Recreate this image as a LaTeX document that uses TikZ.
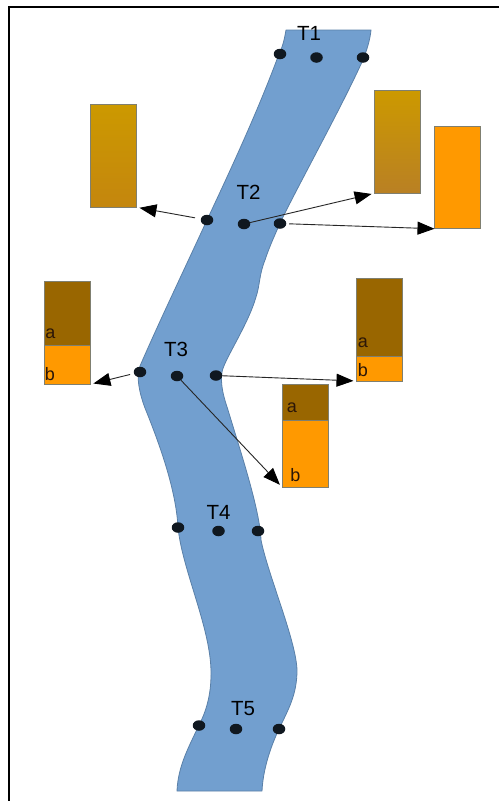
\documentclass[tikz,border=0pt]{standalone}
\usepackage{fontspec}
\setmainfont{Liberation Sans}
\usetikzlibrary{shapes.geometric,arrows.meta}
\definecolor{riverfill}{HTML}{729FCF}
\definecolor{riverline}{HTML}{5A80A8}
\definecolor{boxline}{HTML}{7F7F70}
\definecolor{brownfill}{HTML}{996600}
\definecolor{orangefill}{HTML}{FF9900}
\definecolor{goldtop}{HTML}{CC9900}
\definecolor{goldlow}{HTML}{C4860E}
\definecolor{goldlowb}{HTML}{B98024}
\definecolor{dotfill}{HTML}{101820}
\definecolor{inkdark}{HTML}{2B1608}
\tikzset{
  river/.style={fill=riverfill,draw=riverline,line width=.8pt,line join=round},
  spot/.style={ellipse,fill=dotfill,draw=none,minimum width=12.5pt,minimum height=10.5pt,inner sep=0pt,outer sep=0pt},
  sect/.style={font=\fontsize{20.5}{24}\selectfont,text=black,inner sep=0pt},
  part/.style={font=\fontsize{18}{20}\selectfont,text=inkdark,inner sep=0pt},
  panel/.style={rectangle,draw=boxline,line width=1pt,minimum width=46pt,inner sep=0pt,outer sep=0pt},
  link/.style={line width=.9pt,draw=black!85,-{Triangle[length=17pt,width=13pt,fill=black,color=black]},shorten >=3pt},
}
\begin{document}
\begin{tikzpicture}[x=1pt,y=-1pt]
\useasboundingbox (0,0) rectangle (499,801);
\fill[white] (0,0) rectangle (499,801);
\draw[black,line width=1.8pt] (499,7) -- (9,7) -- (9,801);
% river
\path[river] (286,30) .. controls (284,42) and (282,48) .. (279,54)
  .. controls (262,100) and (240,150) .. (207,220)
  .. controls (185,268) and (160,320) .. (140,366)
  .. controls (136,376) and (139,392) .. (145,408)
  .. controls (160,445) and (176,490) .. (178,527)
  .. controls (182,570) and (212,630) .. (211,675)
  .. controls (211,695) and (206,712) .. (199,725)
  .. controls (190,745) and (178,765) .. (177,791)
  -- (262,791)
  .. controls (263,770) and (270,748) .. (279,729)
  .. controls (288,710) and (297,695) .. (297,670)
  .. controls (296,640) and (268,575) .. (261,540)
  .. controls (260,510) and (240,450) .. (228,410)
  .. controls (224,398) and (220,385) .. (222,372)
  .. controls (224,360) and (248,325) .. (256,297)
  .. controls (260,285) and (259,275) .. (265,260)
  .. controls (270,245) and (275,235) .. (280,223)
  .. controls (300,182) and (340,110) .. (362,62)
  .. controls (367,50) and (370,40) .. (371,30)
  -- cycle;
% panels
\node[panel,minimum height=102.5pt,shade,shading angle=20,top color=goldtop,bottom color=goldlow] (p1) at (113.5,156) {};
\node[panel,minimum height=102.5pt,shade,top color=goldtop,bottom color=goldlowb] (p2) at (397.5,142) {};
\node[panel,minimum height=102.5pt,fill=orangefill] (p3) at (457.5,177.5) {};
\node[panel,minimum height=64.5pt,fill=brownfill] (p4a) at (67.5,313.5) {};
\node[panel,minimum height=38.5pt,fill=orangefill] (p4b) at (67.5,365) {};
\node[panel,minimum height=78pt,fill=brownfill] (p5a) at (379.5,317) {};
\node[panel,minimum height=25pt,fill=orangefill] (p5b) at (379.5,368.5) {};
\node[panel,minimum height=36pt,fill=brownfill] (p6a) at (305,402) {};
\node[panel,minimum height=67pt,fill=orangefill] (p6b) at (305,453.5) {};
% part labels
\node[part] (la4) at (50.5,334) {a};
\node[part] (lb4) at (50,374) {b};
\node[part] (la5) at (363,343) {a};
\node[part] (lb5) at (363,370.5) {b};
\node[part] (la6) at (292,408) {a};
\node[part] (lb6) at (295.5,475.5) {b};
% spots
\node[spot] (a1) at (280,54) {};
\node[spot] (b1) at (316.5,57.5) {};
\node[spot] (c1) at (363,57.5) {};
\node[spot] (a2) at (207,220) {};
\node[spot] (b2) at (244,224) {};
\node[spot] (c2) at (280,223.5) {};
\node[spot] (a3) at (140,372) {};
\node[spot] (b3) at (177,376) {};
\node[spot] (c3) at (216,375.5) {};
\node[spot] (a4) at (178,527.5) {};
\node[spot] (b4) at (218.5,531) {};
\node[spot] (c4) at (258,531) {};
\node[spot] (a5) at (199,725.5) {};
\node[spot] (b5) at (236,729) {};
\node[spot] (c5) at (279,729) {};
% section labels
\node[sect] (t1) at (309,33) {T1};
\node[sect] (t2) at (248.5,192) {T2};
\node[sect] (t3) at (176,349) {T3};
\node[sect] (t4) at (218.5,512) {T4};
\node[sect] (t5) at (243,708.5) {T5};
% connectors
\draw[link,shorten <=6pt] (a2) -- (p1.south east);
\draw[link] (b2) -- (p2.south west);
\draw[link,shorten <=3pt,shorten >=0pt] (c2) -- (p3.south west);
\draw[link,shorten <=4pt] (a3) -- (p4b.south east);
\draw[link] (c3) -- (p5b.south west);
\draw[link] (b3) -- (p6b.south west);
\end{tikzpicture}
\end{document}
